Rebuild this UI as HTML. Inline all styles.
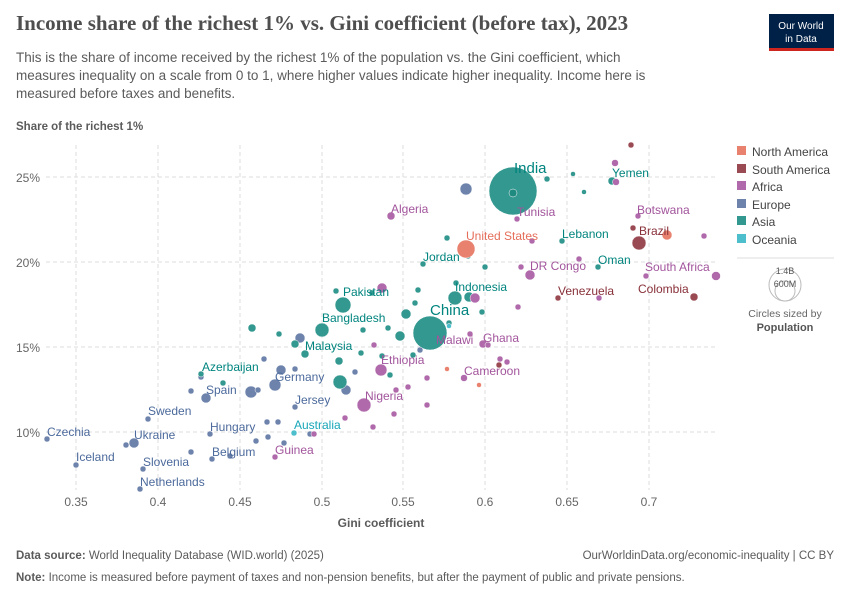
<!DOCTYPE html>
<html><head><meta charset="utf-8"><style>
body{margin:0;background:#fff;font-family:"Liberation Sans",sans-serif;}
svg text{font-family:"Liberation Sans",sans-serif;}
</style></head><body>
<svg width="850" height="600" xmlns="http://www.w3.org/2000/svg">
<text x="16" y="30" font-size="21" font-weight="bold" fill="#4e4e4e" style="font-family:'Liberation Serif',serif">Income share of the richest 1% vs. Gini coefficient (before tax), 2023</text>
<rect x="769" y="14" width="65" height="36" fill="#002147"/><rect x="769" y="48" width="65" height="3" fill="#ce261e"/>
<text x="801" y="29" font-size="10" fill="#fff" text-anchor="middle">Our World</text>
<text x="801" y="42" font-size="10" fill="#fff" text-anchor="middle">in Data</text>
<g font-size="13.5" fill="#5b5b5b">
<text x="16" y="62">This is the share of income received by the richest 1% of the population vs. the Gini coefficient, which</text>
<text x="16" y="80">measures inequality on a scale from 0 to 1, where higher values indicate higher inequality. Income here is</text>
<text x="16" y="98">measured before taxes and benefits.</text></g>
<text x="16" y="130" font-size="11.5" font-weight="bold" fill="#5b5b5b">Share of the richest 1%</text>
<g stroke="#ddd" stroke-dasharray="4,3">
<line x1="46" x2="715" y1="177" y2="177"/><line x1="46" x2="715" y1="262" y2="262"/><line x1="46" x2="715" y1="347" y2="347"/><line x1="46" x2="715" y1="432" y2="432"/>
<line x1="76" x2="76" y1="145" y2="490"/><line x1="158" x2="158" y1="145" y2="490"/><line x1="240" x2="240" y1="145" y2="490"/><line x1="322" x2="322" y1="145" y2="490"/><line x1="403" x2="403" y1="145" y2="490"/><line x1="485" x2="485" y1="145" y2="490"/><line x1="567" x2="567" y1="145" y2="490"/><line x1="649" x2="649" y1="145" y2="490"/>
</g>
<g font-size="12" fill="#666">
<text x="16" y="182">25%</text><text x="16" y="267">20%</text><text x="16" y="352">15%</text><text x="16" y="437">10%</text>
<g text-anchor="middle"><text x="76" y="506">0.35</text><text x="158" y="506">0.4</text><text x="240" y="506">0.45</text><text x="322" y="506">0.5</text><text x="403" y="506">0.55</text><text x="485" y="506">0.6</text><text x="567" y="506">0.65</text><text x="649" y="506">0.7</text></g>
</g>
<text x="381" y="527" font-size="12" font-weight="bold" fill="#5b5b5b" text-anchor="middle">Gini coefficient</text>
<g fill="#6d83ac" stroke="#fff" stroke-width=".5">
<circle cx="47" cy="439" r="3"/><circle cx="76" cy="465" r="3"/><circle cx="126" cy="445" r="3"/><circle cx="134" cy="443" r="5"/><circle cx="148" cy="419" r="3"/><circle cx="143" cy="469" r="3"/><circle cx="140" cy="489" r="3"/><circle cx="191" cy="391" r="3"/><circle cx="201" cy="377" r="3"/><circle cx="206" cy="398" r="5"/><circle cx="191" cy="452" r="3"/><circle cx="210" cy="434" r="3"/><circle cx="212" cy="459" r="3"/><circle cx="230" cy="456" r="3"/><circle cx="251" cy="392" r="6"/><circle cx="258" cy="390" r="3"/><circle cx="264" cy="359" r="3"/><circle cx="256" cy="441" r="3"/><circle cx="267" cy="422" r="3"/><circle cx="268" cy="437" r="3"/><circle cx="278" cy="422" r="3"/><circle cx="275" cy="385" r="6"/><circle cx="281" cy="370" r="5"/><circle cx="284" cy="443" r="3"/><circle cx="300" cy="338" r="5"/><circle cx="295" cy="369" r="3"/><circle cx="295" cy="407" r="3"/><circle cx="310" cy="434" r="3"/><circle cx="346" cy="390" r="5"/><circle cx="466" cy="189" r="6"/><circle cx="420" cy="350" r="3"/><circle cx="355" cy="372" r="3"/></g>
<g fill="#33988f" stroke="#fff" stroke-width=".5">
<circle cx="252" cy="328" r="4"/><circle cx="279" cy="334" r="3"/><circle cx="295" cy="344" r="4"/><circle cx="305" cy="354" r="4"/><circle cx="201" cy="374" r="3"/><circle cx="223" cy="383" r="3"/><circle cx="322" cy="330" r="7"/><circle cx="343" cy="305" r="8"/><circle cx="336" cy="291" r="3"/><circle cx="339" cy="361" r="4"/><circle cx="340" cy="382" r="7"/><circle cx="361" cy="353" r="3"/><circle cx="406" cy="314" r="5"/><circle cx="400" cy="336" r="5"/><circle cx="430" cy="333" r="17"/><circle cx="455" cy="298" r="7"/><circle cx="469" cy="297" r="5"/><circle cx="513" cy="191" r="24"/><circle cx="513" cy="193" r="4" fill="#1f8a80"/><circle cx="547" cy="179" r="3"/><circle cx="573" cy="174" r="2.5"/><circle cx="584" cy="192" r="2.5"/><circle cx="612" cy="181" r="4"/><circle cx="447" cy="238" r="3"/><circle cx="468" cy="256" r="3"/><circle cx="485" cy="267" r="3"/><circle cx="562" cy="241" r="3"/><circle cx="598" cy="267" r="3"/><circle cx="423" cy="264" r="3"/><circle cx="415" cy="303" r="3"/><circle cx="418" cy="290" r="3"/><circle cx="456" cy="283" r="3"/><circle cx="449" cy="323" r="3"/><circle cx="413" cy="355" r="3"/><circle cx="388" cy="328" r="3"/><circle cx="382" cy="356" r="3"/><circle cx="372" cy="293" r="3"/><circle cx="482" cy="312" r="3"/><circle cx="390" cy="375" r="3"/><circle cx="363" cy="330" r="3"/></g>
<g fill="#b06aab" stroke="#fff" stroke-width=".5">
<circle cx="391" cy="216" r="4"/><circle cx="382" cy="288" r="5"/><circle cx="364" cy="405" r="7"/><circle cx="381" cy="370" r="6"/><circle cx="396" cy="390" r="3"/><circle cx="374" cy="345" r="3"/><circle cx="408" cy="387" r="3"/><circle cx="394" cy="414" r="3"/><circle cx="475" cy="298" r="5"/><circle cx="530" cy="275" r="5"/><circle cx="521" cy="267" r="3"/><circle cx="532" cy="241" r="3"/><circle cx="517" cy="219" r="3"/><circle cx="579" cy="259" r="3"/><circle cx="615" cy="163" r="3.5"/><circle cx="616" cy="182" r="3.5"/><circle cx="638" cy="216" r="3"/><circle cx="646" cy="276" r="3"/><circle cx="704" cy="236" r="3"/><circle cx="716" cy="276" r="4.5"/><circle cx="518" cy="307" r="3"/><circle cx="599" cy="298" r="3"/><circle cx="483" cy="344" r="4"/><circle cx="488" cy="345" r="3"/><circle cx="470" cy="334" r="3"/><circle cx="500" cy="359" r="3"/><circle cx="507" cy="362" r="3"/><circle cx="464" cy="378" r="3.5"/><circle cx="427" cy="378" r="3"/><circle cx="427" cy="405" r="3"/><circle cx="314" cy="434" r="3"/><circle cx="275" cy="457" r="3"/><circle cx="345" cy="418" r="3"/><circle cx="373" cy="427" r="3"/></g>
<g fill="#9a4a52" stroke="#fff" stroke-width=".5"><circle cx="631" cy="145" r="3"/><circle cx="633" cy="228" r="3"/><circle cx="639" cy="243" r="7"/><circle cx="558" cy="298" r="3"/><circle cx="694" cy="297" r="4"/><circle cx="499" cy="365" r="3"/></g>
<g fill="#e8826f" stroke="#fff" stroke-width=".5"><circle cx="466" cy="249" r="9"/><circle cx="667" cy="235" r="5"/><circle cx="447" cy="369" r="2.5"/><circle cx="479" cy="385" r="2.5"/></g>
<g fill="#4dbfcc" stroke="#fff" stroke-width=".5"><circle cx="294" cy="433" r="3"/><circle cx="449" cy="326" r="2.5"/></g>
<g font-size="12">
<g fill="#4c6a9c"><text x="47" y="436">Czechia</text><text x="76" y="461">Iceland</text><text x="134" y="439">Ukraine</text><text x="148" y="415">Sweden</text><text x="143" y="466">Slovenia</text><text x="140" y="486">Netherlands</text><text x="206" y="394">Spain</text><text x="210" y="431">Hungary</text><text x="212" y="456">Belgium</text><text x="275" y="381">Germany</text><text x="295" y="404">Jersey</text></g>
<g fill="#00847e"><text x="202" y="371">Azerbaijan</text><text x="305" y="350">Malaysia</text><text x="322" y="322">Bangladesh</text><text x="343" y="296">Pakistan</text><text x="423" y="261">Jordan</text><text x="455" y="291">Indonesia</text><text x="562" y="238">Lebanon</text><text x="598" y="264">Oman</text><text x="612" y="177">Yemen</text></g>
<text x="430" y="315" font-size="15" fill="#00847e">China</text><text x="514" y="173" font-size="15" fill="#00847e">India</text>
<g fill="#a2559c"><text x="391" y="213">Algeria</text><text x="517" y="216">Tunisia</text><text x="530" y="270">DR Congo</text><text x="637" y="214">Botswana</text><text x="645" y="271">South Africa</text><text x="436" y="344">Malawi</text><text x="483" y="342">Ghana</text><text x="381" y="364">Ethiopia</text><text x="464" y="375">Cameroon</text><text x="365" y="400">Nigeria</text><text x="275" y="454">Guinea</text></g>
<g fill="#883039"><text x="639" y="235">Brazil</text><text x="558" y="295">Venezuela</text><text x="638" y="293">Colombia</text></g>
<text x="466" y="240" fill="#e56e5a">United States</text>
<text x="294" y="429" fill="#18a6b8">Australia</text>
</g>
<g font-size="12" fill="#444">
<rect x="737" y="146" width="9" height="9" fill="#e8826f"/><text x="752" y="156">North America</text>
<rect x="737" y="164" width="9" height="9" fill="#9a4a52"/><text x="752" y="174">South America</text>
<rect x="737" y="181" width="9" height="9" fill="#b06aab"/><text x="752" y="191">Africa</text>
<rect x="737" y="199" width="9" height="9" fill="#6d83ac"/><text x="752" y="209">Europe</text>
<rect x="737" y="216" width="9" height="9" fill="#33988f"/><text x="752" y="226">Asia</text>
<rect x="737" y="234" width="9" height="9" fill="#4dbfcc"/><text x="752" y="244">Oceania</text>
</g>
<line x1="737" x2="834" y1="258" y2="258" stroke="#ddd"/>
<circle cx="785" cy="285" r="16" fill="none" stroke="#bbb"/><circle cx="785" cy="291" r="10" fill="none" stroke="#bbb"/>
<text x="785" y="274" font-size="9" fill="#555" text-anchor="middle">1.4B</text><text x="785" y="287" font-size="9" fill="#555" text-anchor="middle">600M</text>
<text x="785" y="317" font-size="10.5" fill="#666" text-anchor="middle">Circles sized by</text>
<text x="785" y="331" font-size="11" font-weight="bold" fill="#555" text-anchor="middle">Population</text>
<g font-size="11.5" fill="#5b5b5b">
<text x="16" y="559"><tspan font-weight="bold">Data source:</tspan> World Inequality Database (WID.world) (2025)</text>
<text x="834" y="559" text-anchor="end">OurWorldinData.org/economic-inequality | CC BY</text>
<text x="16" y="581"><tspan font-weight="bold">Note:</tspan> Income is measured before payment of taxes and non-pension benefits, but after the payment of public and private pensions.</text>
</g>
</svg>
</body></html>
